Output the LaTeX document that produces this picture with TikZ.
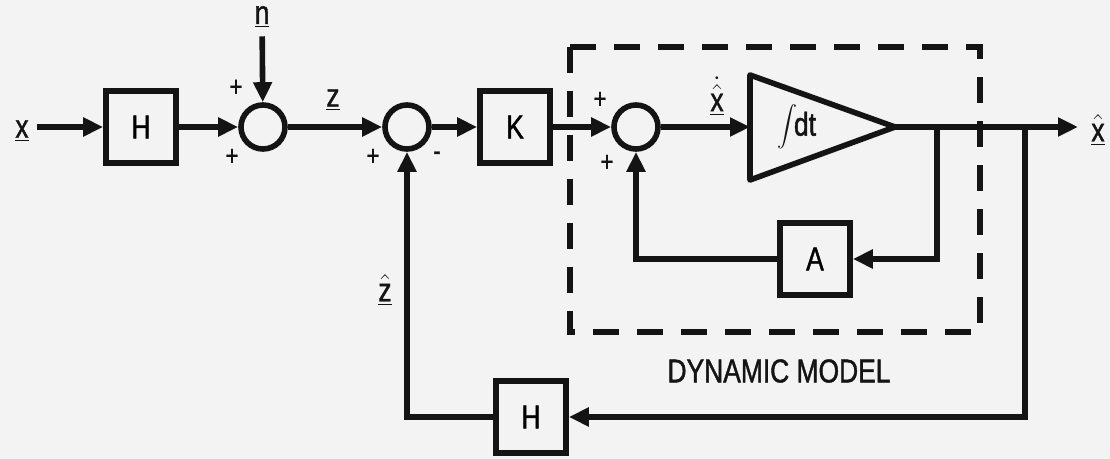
\documentclass[tikz,border=0pt]{standalone}
\usepackage{fontspec}
\setmainfont{Liberation Sans}
\newfontfamily\lblfont[FakeStretch=0.8,FakeBold=1.2]{Liberation Sans}
\usetikzlibrary{arrows.meta,positioning}
\definecolor{inkc}{HTML}{141414}
\definecolor{paperc}{HTML}{F3F3F3}
\tikzset{
  ar/.style={-{Triangle[length=10pt,width=9pt]},line width=2.8pt,inkc},
  ln/.style={line width=2.8pt,inkc,line join=round},
  box/.style={draw=inkc,line width=2.8pt,minimum width=35pt,minimum height=36pt,font=\lblfont\fontsize{16.5}{18}\selectfont},
  sumc/.style={draw=inkc,circle,line width=2.8pt,minimum size=22pt,inner sep=0pt},
  lbl/.style={font=\lblfont\fontsize{16.5}{18}\selectfont,text=inkc,inner sep=1pt},
  sgn/.style={font=\lblfont\fontsize{14}{14}\selectfont,text=inkc,inner sep=0pt},
  dbox/.style={line width=2.8pt,inkc,dash pattern=on 13pt off 9pt}
}

\begin{document}
\begin{tikzpicture}[x=0.5pt,y=-0.5pt]
\fill[paperc] (0,0) rectangle (1110,459);
\useasboundingbox (0,0) rectangle (1110,459);
% forward path
\node[lbl] (xin) at (22,131) {\underline{x}};
\node[box] (h1) at (141,127) {H};
\node[sumc] (s1) at (263,127) {};
\node[lbl] (nin) at (262,17) {\underline{n}};
\node[lbl] (zl) at (333,100) {\underline{z}};
\node[sumc] (s2) at (407,127) {};
\node[box] (k) at (515,127) {K};
\node[sumc] (s3) at (636,127) {};
\node[lbl] (xdl) at (717,96) {$\underline{\dot{\hat{\mbox{x}}}}$};
% integrator
\coordinate (tin) at (750,127);
\coordinate (tout) at (895,127);
\draw[ln] (750,75) -- (tout) -- (750,180) -- cycle;
\node[lbl] (intg) at (797,127) {$\displaystyle\int$\kern-2pt dt};
\coordinate (b1) at (937,127);
\coordinate (b2) at (1025,127);
\coordinate (xend) at (1078,127);
\node[lbl] (xout) at (1098,130) {$\underline{\hat{\mbox{x}}}$};
% feedback blocks
\node[box] (a) at (815,259) {A};
\node[box] (h2) at (531,417) {H};
\node[lbl] (zhl) at (385,290) {$\underline{\hat{\mbox{z}}}$};
% signs
\node[sgn] (p1) at (236,88) {+};
\node[sgn] (p2) at (232,157) {+};
\node[sgn] (p3) at (373,157) {+};
\node[sgn] (m1) at (437,156) {-};
\node[sgn] (p4) at (600,100) {+};
\node[sgn] (p5) at (607,163) {+};
% dynamic model frame
\draw[dbox] (570,47) rectangle (980,332);
\node[lbl] (dm) at (779,371) {DYNAMIC MODEL};
% connectors
\draw[ar,shorten <=3pt] (xin.east |- h1.west) -- (h1.west);
\draw[ar] (h1) -- (s1);
\draw[ar,shorten <=3pt] (nin) -- (s1);
\draw[ar] (s1) -- (s2);
\draw[ar] (s2) -- (k);
\draw[ar] (k) -- (s3);
\draw[ar] (s3) -- (tin);
\draw[ar] (tout) -- (xend);
\draw[ar] (b1) |- (a);
\draw[ar] (a) -| (s3);
\draw[ar] (b2) |- (h2);
\draw[ar] (h2) -| (s2);
\end{tikzpicture}
\end{document}
